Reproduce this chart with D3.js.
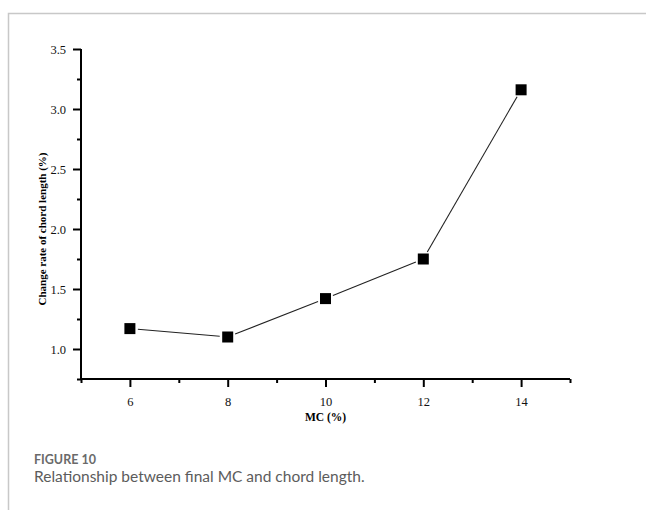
<!DOCTYPE html>
<html lang="en">
<head>
    <meta charset="UTF-8">
    <title>MC vs chord length</title>
    <style>
        body { margin: 0; background: #fff; }
        svg { display: block; }
        .tick text { font-family: "Liberation Serif", "Times New Roman", serif; font-size: 12.5px; fill: #111; }
    </style>
</head>
<body>
    <svg width="646" height="510"></svg>
    <script src="https://cdn.jsdelivr.net/npm/d3@7"></script>
    <script>
        // data
        const mc = [6, 8, 10, 12, 14];
        const changeRate = [1.17, 1.10, 1.42, 1.75, 3.16];
        const xTicks = [6, 8, 10, 12, 14];
        const yTicks = [1.0, 1.5, 2.0, 2.5, 3.0, 3.5];

        const svg = d3.select('svg');

        // panel frame (top + left grey rule)
        svg.append('path')
            .attr('d', 'M8.5,510 V13.5 H646')
            .attr('fill', 'none')
            .attr('stroke', '#c8c8c8')
            .attr('stroke-width', 1.5);

        const x = d3.scaleLinear().domain([5, 15]).range([81, 570]);
        const y = d3.scaleLinear().domain([0.75, 3.5]).range([379, 49]);

        const serif = '"Liberation Serif", "Times New Roman", serif';

        // minor ticks
        const xMinor = d3.range(5, 15.01, 1).filter(v => xTicks.indexOf(v) < 0);
        const yMinor = d3.range(0.75, 3.5, 0.5);

        const gx = svg.append('g').attr('transform', 'translate(0,' + y(0.75) + ')');
        gx.call(d3.axisBottom(x).tickValues(xMinor).tickSize(4).tickFormat(''));
        const gx2 = svg.append('g').attr('transform', 'translate(0,' + y(0.75) + ')');
        gx2.call(d3.axisBottom(x).tickValues(xTicks).tickSize(8).tickPadding(10).tickFormat(d3.format('d')));

        const gy = svg.append('g').attr('transform', 'translate(' + x(5) + ',0)');
        gy.call(d3.axisLeft(y).tickValues(yMinor).tickSize(4).tickFormat(''));
        const gy2 = svg.append('g').attr('transform', 'translate(' + x(5) + ',0)');
        gy2.call(d3.axisLeft(y).tickValues(yTicks).tickSize(8).tickPadding(7).tickFormat(d3.format('.1f')));

        svg.selectAll('.domain').attr('stroke', '#000').attr('stroke-width', 2);
        svg.selectAll('.tick line').attr('stroke', '#000').attr('stroke-width', 2);
        gx.select('.domain').remove();
        gy.select('.domain').remove();
        gx2.select('.domain').attr('d', 'M' + (x(5) - 1) + ',0H' + x(15));
        gy2.select('.domain').attr('d', 'M0,' + y(3.5) + 'V' + y(0.75));

        // axis titles
        svg.append('text')
            .attr('x', (x(5) + x(15)) / 2)
            .attr('y', 421)
            .attr('text-anchor', 'middle')
            .attr('font-family', serif)
            .attr('font-weight', 'bold')
            .attr('font-size', 11.5)
            .text('MC (%)');

        svg.append('text')
            .attr('transform', 'translate(46,' + y(2.0) + ') rotate(-90)')
            .attr('text-anchor', 'middle')
            .attr('font-family', serif)
            .attr('font-weight', 'bold')
            .attr('font-size', 11)
            .text('Change rate of chord length (%)');

        // connecting segments, stopped short of the markers
        const pts = mc.map((d, i) => [x(d), y(changeRate[i])]);
        const gap = 8;
        const segs = d3.pairs(pts).map(([a, b]) => {
            const dx = b[0] - a[0], dy = b[1] - a[1];
            const len = Math.hypot(dx, dy);
            const ux = dx / len, uy = dy / len;
            return [a[0] + ux * gap, a[1] + uy * gap, b[0] - ux * gap, b[1] - uy * gap];
        });
        svg.append('g').selectAll('line').data(segs).enter().append('line')
            .attr('x1', d => d[0]).attr('y1', d => d[1])
            .attr('x2', d => d[2]).attr('y2', d => d[3])
            .attr('stroke', '#222')
            .attr('stroke-width', 1.1);

        // square markers
        const sz = 11;
        svg.append('g').selectAll('rect').data(pts).enter().append('rect')
            .attr('x', d => d[0] - sz / 2)
            .attr('y', d => d[1] - sz / 2)
            .attr('width', sz)
            .attr('height', sz)
            .attr('fill', '#000');

        // caption
        svg.append('text')
            .attr('x', 34)
            .attr('y', 464)
            .attr('font-family', 'Lato, "Open Sans", sans-serif')
            .attr('font-size', 12.5)
            .attr('font-weight', 'bold')
            .attr('fill', '#6a6a6a')
            .text('FIGURE 10');
        svg.append('text')
            .attr('x', 34)
            .attr('y', 482)
            .attr('font-family', 'Lato, "Open Sans", sans-serif')
            .attr('font-size', 15.5)
            .attr('fill', '#5c5c5c')
            .text('Relationship between final MC and chord length.');
    </script>
</body>
</html>
